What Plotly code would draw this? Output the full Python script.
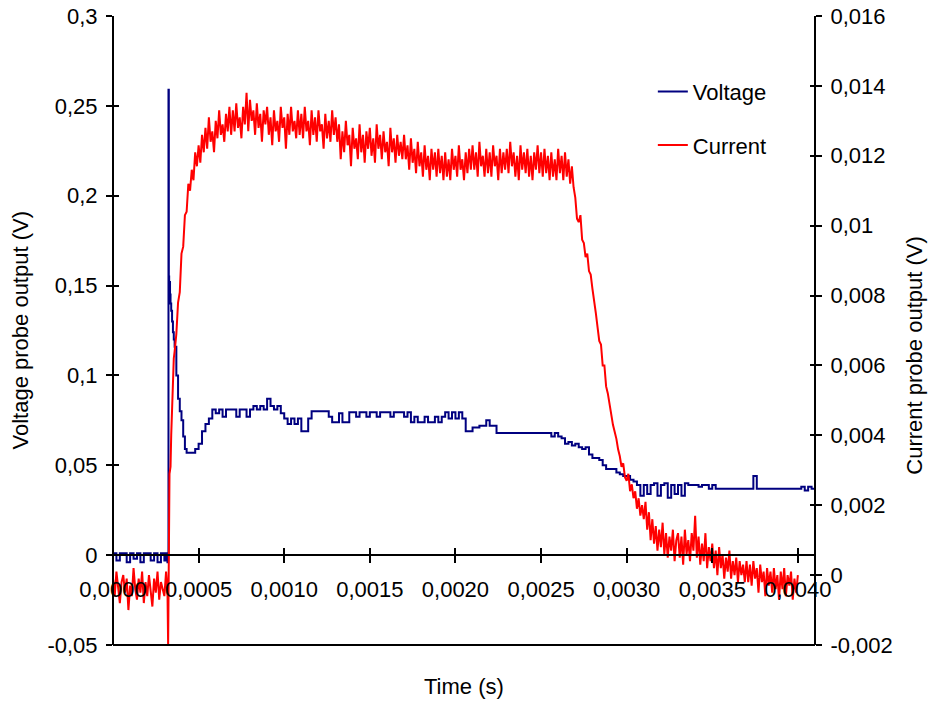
import plotly.graph_objects as go

# ---------------- Voltage (sampled every 20 us, finer at the transient) ----------------
T_V_US = [
    0, 20, 40, 60, 80, 100, 120, 140, 160, 180,
    200, 220, 240, 260, 280, 300, 310, 318, 322, 324,
    326, 328, 330, 333, 336, 340, 345, 350, 355, 360,
    370, 380, 390, 400, 410, 420, 430, 440, 460, 480,
    500, 520, 540, 560, 580, 600, 620, 640, 660, 680,
    700, 720, 740, 760, 780, 800, 820, 840, 860, 880,
    900, 920, 940, 960, 980, 1000, 1020, 1040, 1060, 1080,
    1100, 1120, 1140, 1160, 1180, 1200, 1220, 1240, 1260, 1280,
    1300, 1320, 1340, 1360, 1380, 1400, 1420, 1440, 1460, 1480,
    1500, 1520, 1540, 1560, 1580, 1600, 1620, 1640, 1660, 1680,
    1700, 1720, 1740, 1760, 1780, 1800, 1820, 1840, 1860, 1880,
    1900, 1920, 1940, 1960, 1980, 2000, 2020, 2040, 2060, 2080,
    2100, 2120, 2140, 2160, 2180, 2200, 2220, 2240, 2260, 2280,
    2300, 2320, 2340, 2360, 2380, 2400, 2420, 2440, 2460, 2480,
    2500, 2520, 2540, 2560, 2580, 2600, 2620, 2640, 2660, 2680,
    2700, 2720, 2740, 2760, 2780, 2800, 2820, 2840, 2860, 2880,
    2900, 2920, 2940, 2960, 2980, 3000, 3020, 3040, 3060, 3080,
    3100, 3120, 3140, 3160, 3180, 3200, 3220, 3240, 3260, 3280,
    3300, 3320, 3340, 3360, 3380, 3400, 3420, 3440, 3460, 3480,
    3500, 3520, 3540, 3560, 3580, 3600, 3620, 3640, 3660, 3680,
    3700, 3720, 3740, 3760, 3780, 3800, 3820, 3840, 3860, 3880,
    3900, 3920, 3940, 3960, 3980, 4000, 4020, 4040, 4060, 4080,
    4100,
]

VOLTAGE = [
    0.001, -0.003, 0.001, 0.001, -0.004, 0.001, -0.002, 0.001, -0.004, 0.001,
    0.001, -0.003, 0.001, -0.004, 0.001, -0.003, 0.001, -0.004, 0.001, 0.259,
    0.155, 0.140, 0.152, 0.145, 0.140, 0.136, 0.130, 0.124, 0.120, 0.116,
    0.100, 0.087, 0.080, 0.075, 0.066, 0.059, 0.057, 0.057, 0.057, 0.059,
    0.062, 0.069, 0.073, 0.076, 0.081, 0.079, 0.081, 0.077, 0.081, 0.081,
    0.081, 0.077, 0.081, 0.081, 0.077, 0.081, 0.083, 0.081, 0.083, 0.081,
    0.087, 0.083, 0.081, 0.083, 0.079, 0.076, 0.073, 0.076, 0.073, 0.076,
    0.069, 0.069, 0.076, 0.080, 0.080, 0.080, 0.080, 0.080, 0.077, 0.074,
    0.074, 0.079, 0.074, 0.074, 0.0795, 0.0795, 0.077, 0.0795, 0.0795, 0.077,
    0.0795, 0.0795, 0.077, 0.0795, 0.0795, 0.0795, 0.077, 0.0795, 0.0795, 0.0795,
    0.077, 0.0795, 0.074, 0.077, 0.074, 0.074, 0.077, 0.074, 0.074, 0.077,
    0.074, 0.077, 0.0795, 0.076, 0.0795, 0.076, 0.0795, 0.076, 0.069, 0.069,
    0.071, 0.071, 0.072, 0.072, 0.075, 0.072, 0.072, 0.068, 0.068, 0.068,
    0.068, 0.068, 0.068, 0.068, 0.068, 0.068, 0.068, 0.068, 0.068, 0.068,
    0.068, 0.068, 0.068, 0.066, 0.068, 0.066, 0.065, 0.062, 0.063, 0.061,
    0.062, 0.060, 0.059, 0.060, 0.056, 0.054, 0.054, 0.053, 0.050, 0.048,
    0.048, 0.048, 0.046, 0.045, 0.044, 0.044, 0.042, 0.041, 0.039, 0.033,
    0.039, 0.034, 0.039, 0.040, 0.033, 0.039, 0.040, 0.032, 0.039, 0.034,
    0.039, 0.033, 0.040, 0.039, 0.039, 0.039, 0.038, 0.039, 0.039, 0.037,
    0.039, 0.037, 0.037, 0.037, 0.037, 0.037, 0.037, 0.037, 0.037, 0.037,
    0.037, 0.037, 0.044, 0.037, 0.037, 0.037, 0.037, 0.037, 0.037, 0.037,
    0.037, 0.037, 0.037, 0.037, 0.037, 0.037, 0.038, 0.036, 0.038, 0.037,
    0.038,
]

# ---------------- Current (sampled every 10 us, finer at the transient) ----------------
T_I_US = [
    0, 10, 20, 30, 40, 50, 60, 70, 80, 90, 100, 110, 120, 130, 140, 150, 160, 170, 180, 190,
    200, 210, 220, 230, 240, 250, 260, 270, 280, 290, 300,
    310, 318, 322, 324, 326, 328, 330, 333, 336, 340, 345, 350, 355, 360,
    370, 380, 390, 400, 410, 420, 430, 440, 450, 460, 470, 480, 490,
    500, 510, 520, 530, 540, 550, 560, 570, 580, 590, 600, 610, 620, 630, 640, 650, 660, 670, 680, 690,
    700, 710, 720, 730, 740, 750, 760, 770, 780, 790, 800, 810, 820, 830, 840, 850, 860, 870, 880, 890,
    900, 910, 920, 930, 940, 950, 960, 970, 980, 990, 1000, 1010, 1020, 1030, 1040, 1050, 1060, 1070, 1080, 1090,
    1100, 1110, 1120, 1130, 1140, 1150, 1160, 1170, 1180, 1190, 1200, 1210, 1220, 1230, 1240, 1250, 1260, 1270, 1280, 1290,
    1300, 1310, 1320, 1330, 1340, 1350, 1360, 1370, 1380, 1390, 1400, 1410, 1420, 1430, 1440, 1450, 1460, 1470, 1480, 1490,
    1500, 1510, 1520, 1530, 1540, 1550, 1560, 1570, 1580, 1590, 1600, 1610, 1620, 1630, 1640, 1650, 1660, 1670, 1680, 1690,
    1700, 1710, 1720, 1730, 1740, 1750, 1760, 1770, 1780, 1790, 1800, 1810, 1820, 1830, 1840, 1850, 1860, 1870, 1880, 1890,
    1900, 1910, 1920, 1930, 1940, 1950, 1960, 1970, 1980, 1990, 2000, 2010, 2020, 2030, 2040, 2050, 2060, 2070, 2080, 2090,
    2100, 2110, 2120, 2130, 2140, 2150, 2160, 2170, 2180, 2190, 2200, 2210, 2220, 2230, 2240, 2250, 2260, 2270, 2280, 2290,
    2300, 2310, 2320, 2330, 2340, 2350, 2360, 2370, 2380, 2390, 2400, 2410, 2420, 2430, 2440, 2450, 2460, 2470, 2480, 2490,
    2500, 2510, 2520, 2530, 2540, 2550, 2560, 2570, 2580, 2590, 2600, 2610, 2620, 2630, 2640, 2650, 2660, 2670, 2680, 2690,
    2700, 2710, 2720, 2730, 2740, 2750, 2760, 2770, 2780, 2790, 2800, 2810, 2820, 2830, 2840, 2850, 2860, 2870, 2880, 2890,
    2900, 2910, 2920, 2930, 2940, 2950, 2960, 2970, 2980, 2990, 3000, 3010, 3020, 3030, 3040, 3050, 3060, 3070, 3080, 3090,
    3100, 3110, 3120, 3130, 3140, 3150, 3160, 3170, 3180, 3190, 3200, 3210, 3220, 3230, 3240, 3250, 3260, 3270, 3280, 3290,
    3300, 3310, 3320, 3330, 3340, 3350, 3360, 3370, 3380, 3390, 3400, 3410, 3420, 3430, 3440, 3450, 3460, 3470, 3480, 3490,
    3500, 3510, 3520, 3530, 3540, 3550, 3560, 3570, 3580, 3590, 3600, 3610, 3620, 3630, 3640, 3650, 3660, 3670, 3680, 3690,
    3700, 3710, 3720, 3730, 3740, 3750, 3760, 3770, 3780, 3790, 3800, 3810, 3820, 3830, 3840, 3850, 3860, 3870, 3880, 3890,
    3900, 3910, 3920, 3930, 3940, 3950, 3960, 3970, 3980, 3990, 4000,
]

CURRENT = [
    -0.0001, -0.0006, 0.0001, -0.0004, -0.0008, -0.0002, 0.0000, -0.0005, -0.0001, -0.0010,
    -0.0003, -0.0006, 0.0002, -0.0004, -0.0007, -0.0001, -0.0005, 0.0001, -0.0008, -0.0002,
    -0.0006, 0.0000, -0.0004, -0.0009, -0.0001, -0.0005, 0.0001, -0.0007, -0.0002, -0.0004,
    -0.0006,
    0.0001, -0.0004, -0.0020, 0.0000, 0.0028, 0.0028, 0.0029, 0.0030, 0.0031, 0.0040, 0.0050, 0.0058, 0.0062, 0.0064,
    0.0069, 0.0078, 0.0081, 0.0092, 0.0094, 0.0103, 0.0104, 0.0112, 0.0110, 0.0116, 0.0113, 0.0121, 0.0117,
    0.0123, 0.0118, 0.0126, 0.0121, 0.0128, 0.0122, 0.0131, 0.0124, 0.0127, 0.0121, 0.0130, 0.0125, 0.0133, 0.0126, 0.0129, 0.0124, 0.0132, 0.0127, 0.0134, 0.0126,
    0.0133, 0.0127, 0.0135, 0.0128, 0.0131, 0.0125, 0.0134, 0.0129, 0.0138, 0.0127, 0.0136, 0.0130, 0.0133, 0.0126, 0.0135, 0.0128, 0.0132, 0.0124, 0.0133, 0.0129,
    0.0134, 0.0126, 0.0131, 0.0123, 0.0133, 0.0127, 0.0130, 0.0124, 0.0134, 0.0128, 0.0131, 0.0122, 0.0132, 0.0126, 0.0134, 0.0127, 0.0130, 0.0125, 0.0133, 0.0126,
    0.0132, 0.0125, 0.0134, 0.0127, 0.0130, 0.0123, 0.0133, 0.0126, 0.0131, 0.0124, 0.0133, 0.0127, 0.0129, 0.0122, 0.0132, 0.0125, 0.0130, 0.0124, 0.0133, 0.0126,
    0.0131, 0.0124, 0.0129, 0.0119, 0.0127, 0.0121, 0.0130, 0.0123, 0.0126, 0.0117, 0.0128, 0.0122, 0.0125, 0.0119, 0.0129, 0.0121, 0.0126, 0.0118, 0.0127, 0.0122,
    0.0128, 0.0120, 0.0125, 0.0118, 0.0129, 0.0122, 0.0126, 0.0119, 0.0127, 0.0121, 0.0124, 0.0117, 0.0128, 0.0121, 0.0125, 0.0118, 0.0126, 0.0120, 0.0124, 0.0119,
    0.0126, 0.0119, 0.0123, 0.0116, 0.0125, 0.0118, 0.0122, 0.0115, 0.0124, 0.0117, 0.0121, 0.0114, 0.0123, 0.0116, 0.0120, 0.0113, 0.0122, 0.0116, 0.0121, 0.0114,
    0.0122, 0.0115, 0.0120, 0.0113, 0.0121, 0.0114, 0.0119, 0.0113, 0.0122, 0.0116, 0.0120, 0.0114, 0.0123, 0.0116, 0.0119, 0.0113, 0.0121, 0.0115, 0.0122, 0.0116,
    0.0123, 0.0116, 0.0121, 0.0114, 0.0124, 0.0117, 0.0120, 0.0114, 0.0122, 0.0115, 0.0121, 0.0114, 0.0123, 0.0117, 0.0120, 0.0113, 0.0122, 0.0115, 0.0121, 0.0116,
    0.0122, 0.0115, 0.0124, 0.0117, 0.0121, 0.0114, 0.0120, 0.0113, 0.0123, 0.0116, 0.0121, 0.0115, 0.0122, 0.0114, 0.0120, 0.0113, 0.0121, 0.0116, 0.0123, 0.0115,
    0.0121, 0.0114, 0.0122, 0.0115, 0.0120, 0.0113, 0.0121, 0.0114, 0.0119, 0.0113, 0.0122, 0.0115, 0.0120, 0.0113, 0.0121, 0.0114, 0.0119, 0.0112, 0.0117, 0.0111,
    0.0108, 0.0102, 0.0101, 0.0103, 0.0096, 0.0095, 0.0091, 0.0092, 0.0087, 0.0086, 0.0082, 0.0079, 0.0075, 0.0071, 0.0067, 0.0066, 0.0060, 0.0060, 0.0054, 0.0052,
    0.0049, 0.0045, 0.0043, 0.0041, 0.0039, 0.0036, 0.0034, 0.0031, 0.0032, 0.0028, 0.0027, 0.0029, 0.0024, 0.0026, 0.0022, 0.0024, 0.0019, 0.0022, 0.0017, 0.0020,
    0.0016, 0.0021, 0.0013, 0.0018, 0.0010, 0.0016, 0.0009, 0.0014, 0.0007, 0.0013, 0.0008, 0.0015, 0.0006, 0.0012, 0.0005, 0.0011, 0.0007, 0.0013, 0.0004, 0.0010,
    0.0012, 0.0005, 0.0011, 0.0003, 0.0013, 0.0006, 0.0010, 0.0004, 0.0012, 0.0007, 0.0017, 0.0005, 0.0011, 0.0003, 0.0009, 0.0004, 0.0012, 0.0002, 0.0008, 0.0004,
    0.0009, 0.0002, 0.0007, 0.0000, 0.0008, 0.0002, 0.0006, -0.0001, 0.0005, 0.0001, 0.0007, -0.0001, 0.0004, 0.0000, 0.0005, -0.0002, 0.0004, 0.0000, 0.0003, -0.0002,
    0.0004, -0.0002, 0.0003, -0.0003, 0.0004, -0.0001, 0.0002, -0.0005, 0.0003, -0.0002, 0.0001, -0.0006, 0.0002, -0.0003, 0.0001, -0.0005, 0.0002, -0.0004, 0.0000, -0.0007,
    0.0001, -0.0004, 0.0002, -0.0006, 0.0000, -0.0003, 0.0001, -0.0007, -0.0001, -0.0005, 0.0000,
]

X_TICKS = [0.0, 0.0005, 0.0010, 0.0015, 0.0020, 0.0025, 0.0030, 0.0035, 0.0040]
X_TICK_TEXT = ["0,0000", "0,0005", "0,0010", "0,0015", "0,0020", "0,0025", "0,0030", "0,0035", "0,0040"]
YL_TICKS = [-0.05, 0, 0.05, 0.1, 0.15, 0.2, 0.25, 0.3]
YL_TICK_TEXT = ["-0,05", "0", "0,05", "0,1", "0,15", "0,2", "0,25", "0,3"]
YR_TICKS = [-0.002, 0, 0.002, 0.004, 0.006, 0.008, 0.010, 0.012, 0.014, 0.016]
YR_TICK_TEXT = ["-0,002", "0", "0,002", "0,004", "0,006", "0,008", "0,01", "0,012", "0,014", "0,016"]

n = min(len(T_I_US), len(CURRENT))
tv = [v * 1e-6 for v in T_V_US[:len(VOLTAGE)]]
ti = [v * 1e-6 for v in T_I_US[:n]]

FONT = "Liberation Sans, Arial, sans-serif"
FS = 22
X_RANGE = [0, 0.0041]
YL_RANGE = [-0.05, 0.3]
YR_RANGE = [-0.002, 0.016]
X_POS = (0 - YL_RANGE[0]) / (YL_RANGE[1] - YL_RANGE[0])

fig = go.Figure()
fig.add_trace(go.Scatter(
    x=tv, y=VOLTAGE, name="Voltage", mode="lines",
    line=dict(color="#000080", width=2, shape="hv"),
    xaxis="x", yaxis="y", legendgroup="v",
))
fig.add_trace(go.Scatter(
    x=ti, y=CURRENT[:n], name="Current", mode="lines",
    line=dict(color="#FF0000", width=2),
    xaxis="x", yaxis="y2", legendgroup="c",
))
# helper traces for the crossing-tick overlay axes
fig.add_trace(go.Scatter(x=[None], y=[None], xaxis="x2", yaxis="y3", showlegend=False, hoverinfo="skip"))
fig.add_trace(go.Scatter(x=[None], y=[None], xaxis="x2", yaxis="y4", showlegend=False, hoverinfo="skip"))

axis_font = dict(family=FONT, size=FS, color="black")

fig.update_layout(
    width=932, height=702,
    margin=dict(l=113, r=117, t=16, b=57, autoexpand=False),
    paper_bgcolor="white", plot_bgcolor="white",
    font=dict(family=FONT, size=FS, color="black"),
    showlegend=True,
    legend=dict(
        x=0.769, y=0.913, xanchor="left", yanchor="top",
        font=dict(family=FONT, size=FS, color="black"),
        bgcolor="rgba(0,0,0,0)", tracegroupgap=22,
    ),
    xaxis=dict(
        range=X_RANGE, anchor="free", position=X_POS, automargin=False,
        tickvals=X_TICKS, ticktext=X_TICK_TEXT, tickfont=axis_font,
        showline=True, linecolor="black", linewidth=2,
        ticks="outside", ticklen=7, tickwidth=2, tickcolor="black",
        ticklabelstandoff=7, ticklabeloverflow="allow",
        showgrid=False, zeroline=False,
    ),
    xaxis2=dict(
        range=X_RANGE, anchor="free", position=X_POS, overlaying="x", automargin=False,
        tickvals=X_TICKS, showticklabels=False,
        showline=False, ticks="inside", ticklen=7, tickwidth=2, tickcolor="black",
        showgrid=False, zeroline=False,
    ),
    yaxis=dict(
        range=YL_RANGE, anchor="free", position=0, side="left", automargin=False,
        tickvals=YL_TICKS, ticktext=YL_TICK_TEXT, tickfont=axis_font,
        showline=True, linecolor="black", linewidth=2,
        ticks="outside", ticklen=6, tickwidth=2, tickcolor="black",
        ticklabelstandoff=4, ticklabeloverflow="allow",
        showgrid=False, zeroline=False,
    ),
    yaxis2=dict(
        range=YR_RANGE, anchor="free", position=1, side="right", overlaying="y", automargin=False,
        tickvals=YR_TICKS, ticktext=YR_TICK_TEXT, tickfont=axis_font,
        showline=True, linecolor="black", linewidth=2,
        ticks="outside", ticklen=6, tickwidth=2, tickcolor="black",
        ticklabelstandoff=4, ticklabeloverflow="allow",
        showgrid=False, zeroline=False,
    ),
    yaxis3=dict(
        range=YL_RANGE, anchor="free", position=0, side="left", overlaying="y", automargin=False,
        tickvals=YL_TICKS, showticklabels=False,
        ticks="inside", ticklen=5, tickwidth=2, tickcolor="black",
        showline=False, showgrid=False, zeroline=False,
    ),
    yaxis4=dict(
        range=YR_RANGE, anchor="free", position=1, side="right", overlaying="y", automargin=False,
        tickvals=YR_TICKS, showticklabels=False,
        ticks="inside", ticklen=5, tickwidth=2, tickcolor="black",
        showline=False, showgrid=False, zeroline=False,
    ),
    shapes=[dict(
        type="line", xref="paper", yref="paper", x0=0, x1=1, y0=0, y1=0,
        line=dict(color="black", width=2),
    )],
    annotations=[
        dict(text="Time (s)", xref="paper", yref="paper", x=0.5, y=0,
             xanchor="center", yanchor="middle", yshift=-41, showarrow=False,
             font=dict(family=FONT, size=FS, color="black")),
        dict(text="Voltage probe output (V)", xref="paper", yref="paper", x=0, y=0.5,
             xanchor="center", yanchor="middle", xshift=-93, textangle=-90, showarrow=False,
             font=dict(family=FONT, size=FS, color="black")),
        dict(text="Current probe output (V)", xref="paper", yref="paper", x=1, y=0.46,
             xanchor="center", yanchor="middle", xshift=100, textangle=-90, showarrow=False,
             font=dict(family=FONT, size=FS, color="black")),
    ],
)

# remove the default page margin so the 932x702 figure fills the window exactly
fig.write_html(
    "out.html",
    config={"displayModeBar": False},
    post_script="document.body.style.margin='0';",
)
